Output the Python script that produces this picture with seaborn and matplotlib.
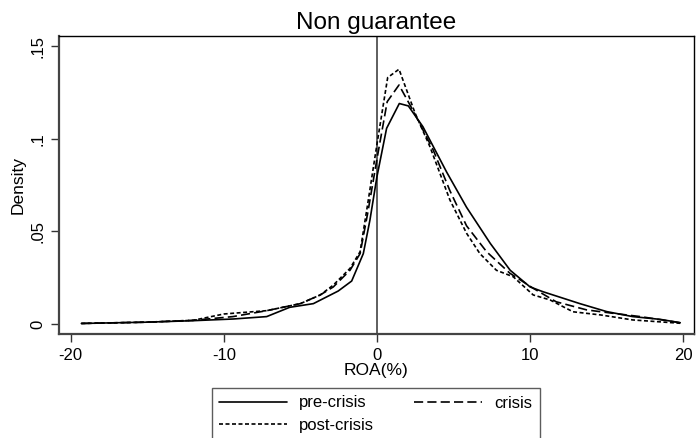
import matplotlib
matplotlib.use("Agg")
import matplotlib.pyplot as plt
import seaborn as sns
import pandas as pd
import numpy as np

sns.set_theme(style="white")
plt.rcParams['font.family'] = ['Liberation Sans', 'DejaVu Sans']
plt.rcParams['text.color'] = 'black'
plt.rcParams['axes.labelcolor'] = 'black'
plt.rcParams['xtick.color'] = 'black'
plt.rcParams['ytick.color'] = 'black'

pre_x = [-19.3, -15, -12, -9.4, -7.2, -5.7, -4.15, -2.53, -1.65, -0.89, -0.46, 0, 0.63, 1.46, 2.05,
         3.0, 4.55, 5.85, 7.4, 8.7, 10, 10.85, 13.25, 15, 16.7, 18.5, 19.8]
pre_y = [0.0003, 0.001, 0.0018, 0.0027, 0.004, 0.009, 0.011, 0.0178, 0.0232, 0.038, 0.056, 0.0795, 0.1056,
         0.119, 0.1177, 0.1065, 0.082, 0.063, 0.0435, 0.029, 0.020, 0.0174, 0.011, 0.0067, 0.004, 0.0025, 0.0007]
crisis_x = [-19.3, -15, -12, -9.4, -7.2, -5, -3.7, -2.85, -1.76, -1.1, -0.6, 0, 0.67, 1.44, 2.37,
            3.67, 4.76, 5.85, 7.16, 8.68, 10.2, 11.7, 13.7, 15.4, 17.2, 19.8]
crisis_y = [0.0003, 0.001, 0.002, 0.004, 0.0072, 0.011, 0.0157, 0.020, 0.029, 0.038, 0.060, 0.089, 0.120,
            0.129, 0.115, 0.094, 0.072, 0.053, 0.039, 0.0274, 0.0193, 0.012, 0.0076, 0.0058, 0.004, 0.0007]
post_x = [-19.3, -15, -12, -10, -9.4, -7.2, -5, -3.7, -2.85, -1.76, -1.1, -0.6, 0, 0.7, 1.44, 2.48,
          3.46, 4.76, 5.85, 6.72, 7.8, 8.9, 10.2, 11.3, 12.8, 14.6, 16.7, 19.8]
post_y = [0.0003, 0.001, 0.002, 0.0054, 0.0058, 0.0072, 0.011, 0.0157, 0.021, 0.030, 0.039, 0.065, 0.097,
          0.133, 0.1375, 0.114, 0.0957, 0.067, 0.049, 0.038, 0.029, 0.0255, 0.0157, 0.013, 0.0066, 0.0049,
          0.0022, 0.0004]
series_names = ["pre-crisis", "crisis", "post-crisis"]
x_ticks = [-20, -10, 0, 10, 20]
y_ticks = [0, 0.05, 0.1, 0.15]
y_ticklabels = ["0", ".05", ".1", ".15"]

df = pd.concat([
    pd.DataFrame({"ROA": pre_x, "Density": pre_y, "period": series_names[0]}),
    pd.DataFrame({"ROA": crisis_x, "Density": crisis_y, "period": series_names[1]}),
    pd.DataFrame({"ROA": post_x, "Density": post_y, "period": series_names[2]}),
], ignore_index=True)

fig = plt.figure(figsize=(6.98, 4.38), dpi=100)
ax = fig.add_axes([0.0845, 0.2374, 0.9091, 0.6811])

styles = {"pre-crisis": None, "crisis": (5.5, 2.5), "post-crisis": (2.4, 1.5)}
handles = {}
for name in series_names:
    sub = df[df["period"] == name]
    sns.lineplot(data=sub, x="ROA", y="Density", ax=ax, color="black", lw=1.2,
                 estimator=None, sort=False, label=name, legend=False)
    ln = ax.lines[-1]
    if styles[name] is not None:
        ln.set_dashes(styles[name])
    handles[name] = ln

ax.axvline(0, color="#333333", lw=1.1, zorder=1)

ax.set_xlim(-20.76, 20.67)
ax.set_ylim(-0.0054, 0.1556)
ax.set_xticks(x_ticks)
ax.set_xticklabels([str(t) for t in x_ticks], fontsize=12)
ax.set_yticks(y_ticks)
ax.set_yticklabels(y_ticklabels, fontsize=12, rotation=90, va="center")
ax.tick_params(axis="both", direction="out", length=6, width=1, color="#333333", pad=4, left=True, bottom=True)
for side in ["left", "bottom"]:
    ax.spines[side].set_color("#444444")
    ax.spines[side].set_linewidth(1.6)
for side in ["top", "right"]:
    ax.spines[side].set_color("black")
    ax.spines[side].set_linewidth(1.0)

ax.set_xlabel("ROA(%)", fontsize=12.5, labelpad=0)
ax.set_ylabel("Density", fontsize=12.5, labelpad=3)
ax.set_title("Non guarantee", fontsize=17.5, pad=5)

order = ["pre-crisis", "post-crisis", "crisis"]
leg = fig.legend([handles[n] for n in order], order, ncol=2, loc="upper left",
                 bbox_to_anchor=(211.5 / 698, 1 - 388 / 438), frameon=True,
                 fontsize=12, handlelength=4.1, handletextpad=0.7, columnspacing=2.4,
                 borderpad=0.45, labelspacing=0.45, fancybox=False, borderaxespad=0)
leg.get_frame().set_edgecolor("#333333")
leg.get_frame().set_linewidth(1.0)

fig.savefig("out.png", dpi=100)
